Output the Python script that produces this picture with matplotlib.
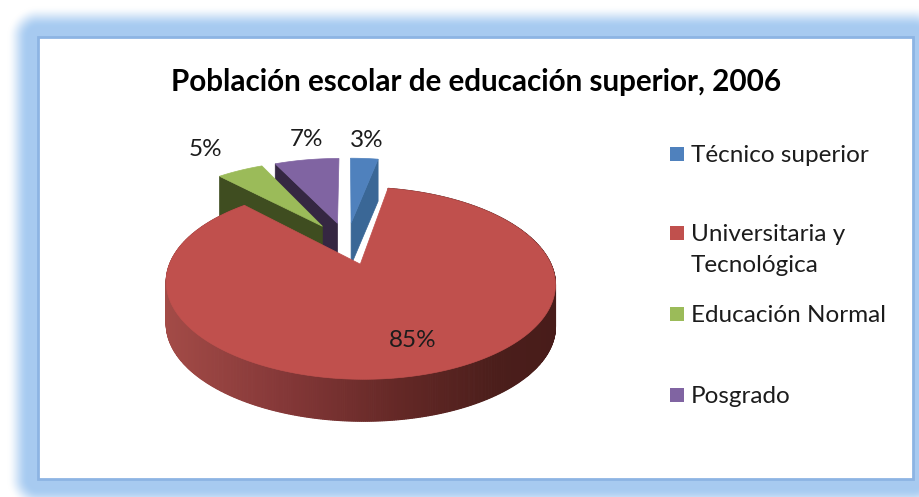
import matplotlib
matplotlib.use('Agg')
import matplotlib.pyplot as plt
from matplotlib.patches import Polygon, Rectangle
import numpy as np

title = 'Población escolar de educación superior, 2006'
categories = ['Técnico superior', 'Universitaria y\nTecnológica', 'Educación Normal', 'Posgrado']
percent = [3, 85, 5, 7]

top_colors = ['#4F81BD', '#C0504D', '#9BBB59', '#8064A2']
wall_colors = ['#3A6796', '#A04A47', '#3F4D20', '#352742']

# pie projection, in pixels of the picture
center_x, center_y = 347, 243
radius_x, radius_y = 182, 84
persp = 0.19
explode = 0.25
depth = 42

legend_y = [154, 233, 314, 395]
label_offsets = [(2, -18), (19, 22), (-35, -21), (-1, -20)]


def project(u, v):
    w = 1 + persp * v
    return center_x + radius_x * u / w, center_y - radius_y * v / w


def wedge_points(start, stop):
    # angles run clockwise from the top, in degrees
    mid = np.radians((start + stop) / 2)
    ang = np.radians(np.linspace(start, stop, int(abs(stop - start)) * 2 + 2))
    u0, v0 = explode * np.sin(mid), explode * np.cos(mid)
    u = u0 + np.sin(ang)
    v = v0 + np.cos(ang)
    return u0, v0, u, v


fig = plt.figure(figsize=(9.19, 4.97), dpi=100)
ax = fig.add_axes([0, 0, 1, 1])
ax.set_xlim(0, 919)
ax.set_ylim(497, 0)
ax.axis('off')

# blue glow round the white box
box_l, box_t, box_r, box_b = 38, 37, 913, 479
gx, gy = np.meshgrid(np.arange(919) + 0.5, np.arange(497) + 0.5)
dx = np.maximum(np.maximum(box_l - gx, gx - box_r), 0)
dy = np.maximum(np.maximum(box_t - gy, gy - box_b), 0)
dist = np.hypot(dx, dy)
fade = np.clip((31 - dist) / 21, 0, 1)
fade = fade * fade * (3 - 2 * fade)
glow = np.dstack([1 - fade * (1 - c) for c in (0.655, 0.796, 0.945)])
ax.imshow(glow, extent=(0, 919, 497, 0), aspect='auto', zorder=0)
ax.add_patch(Rectangle((box_l, box_t), box_r - box_l, box_b - box_t, fc='white', ec='#8DB4E3', lw=2, zorder=1))

ax.text(476, 82, title, fontsize=21.3, fontweight='bold', family='Lato', color='black', ha='center', va='center', zorder=5)

# start angle of every slice
bounds = np.cumsum([0] + percent) * 3.6
slices = {}
for i in range(len(percent)):
    slices[i] = wedge_points(bounds[i], bounds[i + 1])

# far slices first, the big one goes last
for i in [0, 3, 2]:
    u0, v0, u, v = slices[i]
    ax_x, ax_y = project(u0, v0)
    # the radial side that faces the viewer
    edge = -1 if i == 0 else 0
    ex, ey = project(u[edge], v[edge])
    ax.add_patch(Polygon([(ax_x, ax_y), (ex, ey), (ex, ey + depth), (ax_x, ax_y + depth)],
                         fc=wall_colors[i], ec=wall_colors[i], lw=0.5, zorder=2))
    px, py = project(u, v)
    ax.add_patch(Polygon(np.r_[[[ax_x, ax_y]], np.c_[px, py]], fc=top_colors[i], ec=top_colors[i], lw=0.5, zorder=2))

# big slice: outer wall shaded from left to right
u0, v0, u, v = slices[1]
px, py = project(u, v)
shade_pos = [0, 0.3, 0.6, 0.85, 1]
shade_r = [163, 133, 100, 75, 72]
shade_g = [75, 56, 40, 30, 28]
shade_b = [71, 56, 38, 27, 26]
for j in range(len(px) - 1):
    t = (px[j] - px.min()) / (px.max() - px.min())
    col = (np.interp(t, shade_pos, shade_r) / 255, np.interp(t, shade_pos, shade_g) / 255, np.interp(t, shade_pos, shade_b) / 255)
    ax.add_patch(Polygon([(px[j], py[j]), (px[j + 1], py[j + 1]), (px[j + 1], py[j + 1] + depth), (px[j], py[j] + depth)],
                         fc=col, ec=col, lw=0.8, zorder=3))
ax_x, ax_y = project(u0, v0)
ax.add_patch(Polygon(np.r_[[[ax_x, ax_y]], np.c_[px, py]], fc=top_colors[1], ec=top_colors[1], lw=0.5, zorder=3))

# percent labels
for i in range(len(percent)):
    u0, v0, u, v = slices[i]
    mid = len(u) // 2
    if i == 1:
        lx, ly = project(u0 + 0.55 * (u[mid] - u0), v0 + 0.55 * (v[mid] - v0))
    else:
        lx, ly = project(u[mid], v[mid])
    lx += label_offsets[i][0]
    ly += label_offsets[i][1]
    ax.text(lx, ly, '%d%%' % percent[i], fontsize=17.5, family='Lato', color='#1c1c1c', ha='center', va='center', zorder=5)

# legend
for i in range(len(categories)):
    ax.add_patch(Rectangle((670, legend_y[i] - 7), 14, 14, fc=top_colors[i], ec='none', zorder=5))
    ax.text(691, legend_y[i] - 9, categories[i], fontsize=17.5, family='Lato', color='#1c1c1c', ha='left', va='top',
            linespacing=1.6, zorder=5)

fig.savefig('out.png', dpi=100)
